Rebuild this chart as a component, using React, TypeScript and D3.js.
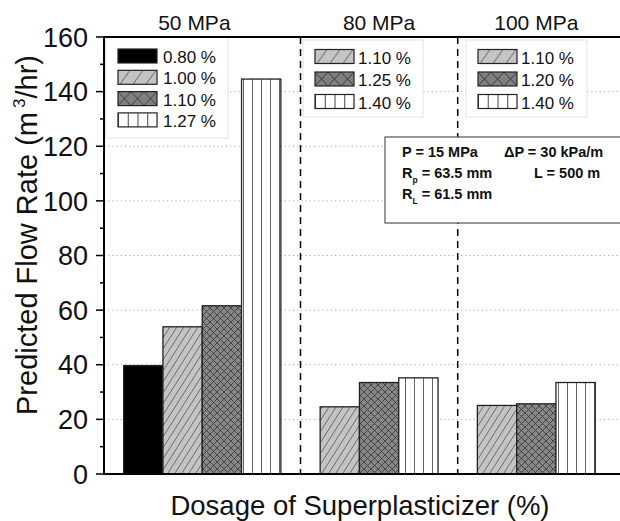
import React from "react";
import * as d3 from "d3";

// values
const groupLabels = ["50 MPa", "80 MPa", "100 MPa"];
const dosage50 = ["0.80 %", "1.00 %", "1.10 %", "1.27 %"];
const flow50 = [39.7, 53.9, 61.6, 144.6];
const dosage80 = ["1.10 %", "1.25 %", "1.40 %"];
const flow80 = [24.6, 33.5, 35.2];
const dosage100 = ["1.10 %", "1.20 %", "1.40 %"];
const flow100 = [25.1, 25.7, 33.5];
const fills50 = ["solid", "hatch", "cross", "vert"];
const fills80 = ["hatch", "cross", "vert"];
const fills100 = ["hatch", "cross", "vert"];
const yTicks = [0, 20, 40, 60, 80, 100, 120, 140, 160];
const yMinor = [10, 30, 50, 70, 90, 110, 130, 150];
const gridValues = [20, 40, 60, 80, 100, 120, 140];

const groups = [
  { label: groupLabels[0], dosage: dosage50, flow: flow50, fills: fills50 },
  { label: groupLabels[1], dosage: dosage80, flow: flow80, fills: fills80 },
  { label: groupLabels[2], dosage: dosage100, flow: flow100, fills: fills100 },
];

const W = 620;
const H = 521;
const FONT = "'Liberation Sans', Arial, sans-serif";

const barFill: Record<string, string> = {
  solid: "#000",
  hatch: "url(#barHatch)",
  cross: "url(#barCross)",
  vert: "url(#barVert)",
};
const keyFill: Record<string, string> = {
  solid: "#000",
  hatch: "url(#keyHatch)",
  cross: "url(#keyCross)",
  vert: "url(#keyVert)",
};

// legend boxes (pixel layout)
const legendBoxes = [
  { x: 106, y: 37, w: 122, h: 101, sx: 118, tx: 163, top: 49, pitch: 21.3 },
  { x: 303, y: 40, w: 120, h: 77, sx: 315, tx: 358, top: 49.5, pitch: 22.5 },
  { x: 466, y: 40, w: 121, h: 77, sx: 478, tx: 521, top: 49.5, pitch: 22.5 },
];

export default function App() {
  // one slot per bar, an empty slot between groups
  let slot = 0;
  const placed = groups.map((g, gi) => {
    const start = slot;
    slot += g.flow.length + 1;
    return { ...g, start, gap: start + g.flow.length, gi };
  });

  const x = d3.scaleLinear().domain([-1, 12.2]).range([104, 104 + 39.3 * 13.2]);
  const y = d3.scaleLinear().domain([0, 160]).range([474, 37]);
  const bw = x(1) - x(0);
  const labelSlots = [1.3, 6, 10];

  return (
    <svg
      width={W}
      height={H}
      style={{ position: "absolute", left: 0, top: 0, background: "#fff" }}
      fontFamily={FONT}
    >
      <defs>
        <pattern id="barHatch" patternUnits="userSpaceOnUse" width={7} height={11}>
          <rect width={7} height={11} fill="#c4c4c4" />
          <path d="M0,11 L7,0 M-7,11 L0,0 M7,11 L14,0" stroke="#555" strokeWidth={0.8} />
        </pattern>
        <pattern id="barCross" patternUnits="userSpaceOnUse" width={7} height={7}>
          <rect width={7} height={7} fill="#878787" />
          <path d="M0,0 L7,7 M7,0 L0,7" stroke="#333" strokeWidth={0.8} />
        </pattern>
        <pattern id="barVert" patternUnits="userSpaceOnUse" width={9} height={10}>
          <rect width={9} height={10} fill="#fff" />
          <path d="M0.5,0 L0.5,10" stroke="#666" strokeWidth={1} />
        </pattern>
        <pattern id="keyHatch" patternUnits="userSpaceOnUse" width={13} height={14}>
          <rect width={13} height={14} fill="#c4c4c4" />
          <path d="M2,14 L12,0 M-11,14 L-1,0 M15,14 L25,0" stroke="#555" strokeWidth={0.9} />
        </pattern>
        <pattern id="keyCross" patternUnits="userSpaceOnUse" width={13} height={14}>
          <rect width={13} height={14} fill="#808080" />
          <path d="M0,0 L13,14 M13,0 L0,14" stroke="#333" strokeWidth={0.9} />
        </pattern>
        <pattern id="keyVert" patternUnits="userSpaceOnUse" width={9.75} height={14}>
          <rect width={9.75} height={14} fill="#fff" />
          <path d="M0.5,0 L0.5,14" stroke="#444" strokeWidth={1} />
        </pattern>
      </defs>

      {/* dotted grid */}
      {gridValues.map((v) => (
        <line
          key={"g" + v}
          x1={x(-1)}
          x2={W}
          y1={y(v)}
          y2={y(v)}
          stroke="#aaa"
          strokeWidth={1}
          strokeDasharray="1.2,3"
        />
      ))}

      {/* group separators */}
      {placed.slice(0, -1).map((g) => (
        <line
          key={"sep" + g.gi}
          x1={x(g.gap)}
          x2={x(g.gap)}
          y1={y(160)}
          y2={y(0)}
          stroke="#000"
          strokeWidth={1.5}
          strokeDasharray="7,5"
        />
      ))}

      {/* bars */}
      {placed.map((g) =>
        g.flow.map((v, i) => (
          <rect
            key={g.gi + "-" + i}
            x={x(g.start + i) - bw / 2}
            y={y(v)}
            width={bw}
            height={y(0) - y(v)}
            fill={barFill[g.fills[i]]}
            stroke="#222"
            strokeWidth={1.3}
          />
        ))
      )}

      {/* legends */}
      {placed.map((g, gi) => {
        const L = legendBoxes[gi];
        return (
          <g key={"leg" + gi}>
            <rect x={L.x} y={L.y} width={L.w} height={L.h} fill="#fff" stroke="#e2e2e2" strokeWidth={1} />
            {g.dosage.map((d, i) => {
              const ty = L.top + i * L.pitch;
              return (
                <g key={d + i} transform={`translate(0,${ty})`}>
                  <g transform={`translate(${L.sx},0)`}>
                    <rect width={39} height={14} fill={keyFill[g.fills[i]]} stroke="#222" strokeWidth={1.2} />
                  </g>
                  <text x={L.tx} y={14} fontSize={17} fill="#111">
                    {d}
                  </text>
                </g>
              );
            })}
          </g>
        );
      })}

      {/* condition box */}
      <g>
        <rect x={385} y={137} width={240} height={86} fill="#fff" stroke="#555" strokeWidth={1.2} />
        <g fontSize={14.5} fontWeight="bold" fill="#111">
          <text x={402} y={157}>P = 15 MPa</text>
          <text x={504} y={157}>ΔP = 30 kPa/m</text>
          <text x={402} y={178}>
            R<tspan fontSize={8.5} dy={5}>p</tspan>
            <tspan dy={-5}> = 63.5 mm</tspan>
          </text>
          <text x={534} y={178}>L = 500 m</text>
          <text x={402} y={199}>
            R<tspan fontSize={8.5} dy={5}>L</tspan>
            <tspan dy={-5}> = 61.5 mm</tspan>
          </text>
        </g>
      </g>

      {/* frame */}
      <line x1={x(-1)} x2={W} y1={y(160)} y2={y(160)} stroke="#000" strokeWidth={2} />
      <line x1={x(-1)} x2={W} y1={y(0)} y2={y(0)} stroke="#000" strokeWidth={2} />
      <line x1={x(-1)} x2={x(-1)} y1={y(160) - 1} y2={y(0) + 1} stroke="#000" strokeWidth={2} />

      {/* y ticks */}
      {yTicks.map((v) => (
        <g key={"t" + v}>
          <line x1={x(-1) - 8} x2={x(-1)} y1={y(v)} y2={y(v)} stroke="#000" strokeWidth={1.5} />
          <text x={88} y={y(v)} dy="0.36em" textAnchor="end" fontSize={27} fill="#111">
            {v}
          </text>
        </g>
      ))}
      {yMinor.map((v) => (
        <line key={"m" + v} x1={x(-1) - 4} x2={x(-1)} y1={y(v)} y2={y(v)} stroke="#000" strokeWidth={1.5} />
      ))}

      {/* group titles */}
      {placed.map((g, gi) => (
        <text
          key={"gl" + gi}
          x={x(labelSlots[gi])}
          y={30}
          textAnchor="middle"
          fontSize={21}
          fill="#111"
        >
          {g.label}
        </text>
      ))}

      {/* axis titles */}
      <text x={360} y={515} textAnchor="middle" fontSize={27.5} fill="#111">
        Dosage of Superplasticizer (%)
      </text>
      <text transform={`translate(37,235) rotate(-90)`} textAnchor="middle" fontSize={29} fill="#111">
        Predicted Flow Rate (m
        <tspan fontSize={17} dx={4} dy={-12}>3</tspan>
        <tspan dy={12}>/hr)</tspan>
      </text>
    </svg>
  );
}
